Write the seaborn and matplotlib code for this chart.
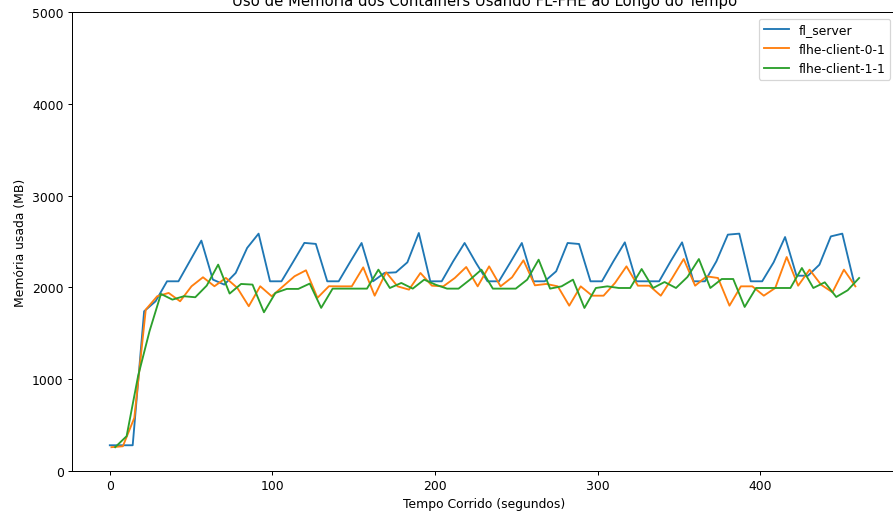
import numpy as np
import pandas as pd
import matplotlib
matplotlib.use("Agg")
import matplotlib.pyplot as plt
import seaborn as sns

# Amostragem dos containers (segundos)
intervalo = 7.04
inicio = {"fl_server": 0.0, "flhe-client-0-1": 1.0, "flhe-client-1-1": 3.3}

# Memória usada (MB)
fl_server = [
    276, 276, 276, 1738, 1847, 2065, 2065, 2287, 2509, 2084,
    2029, 2156, 2429, 2585, 2065, 2065, 2273, 2484, 2473, 2065,
    2065, 2276, 2483, 2065, 2156, 2163, 2272, 2592, 2065, 2065,
    2283, 2483, 2265, 2065, 2065, 2272, 2483, 2065, 2065, 2174,
    2483, 2472, 2065, 2065, 2283, 2490, 2065, 2065, 2065, 2283,
    2490, 2065, 2065, 2283, 2574, 2585, 2065, 2065, 2272, 2548,
    2126, 2126, 2246, 2555, 2585, 2065,
]
client_0 = [
    255, 265, 575, 1756, 1902, 1938, 1847, 2011, 2109, 2011,
    2102, 1993, 1793, 2011, 1902, 2011, 2120, 2185, 1884, 2011,
    2010, 2010, 2217, 1908, 2163, 2010, 1974, 2156, 2017, 2010,
    2101, 2221, 2010, 2228, 2010, 2108, 2294, 2021, 2036, 2010,
    1799, 2010, 1908, 1908, 2047, 2228, 2017, 2017, 1908, 2101,
    2308, 2017, 2119, 2101, 1799, 2010, 2010, 1908, 1992, 2330,
    2017, 2192, 2028, 1945, 2192, 2010,
]
client_1 = [
    255, 375, 1029, 1520, 1927, 1865, 1902, 1891, 2018, 2247,
    1931, 2036, 2029, 1727, 1938, 1982, 1982, 2040, 1775, 1985,
    1985, 1985, 1985, 2192, 1992, 2047, 1985, 2083, 2028, 1985,
    1985, 2083, 2192, 1985, 1985, 1985, 2083, 2301, 1985, 2010,
    2083, 1774, 1992, 2010, 1992, 1992, 2199, 1992, 2057, 1992,
    2112, 2308, 1992, 2090, 2090, 1785, 1992, 1992, 1992, 1992,
    2210, 1992, 2054, 1894, 1967, 2101,
]

series = {
    "fl_server": fl_server,
    "flhe-client-0-1": client_0,
    "flhe-client-1-1": client_1,
}
cores = ["#1f77b4", "#ff7f0e", "#2ca02c"]

# Montar DataFrame longo
linhas = []
for nome, valores in series.items():
    tempos = inicio[nome] + intervalo * np.arange(len(valores))
    for t, v in zip(tempos, valores):
        linhas.append({"tempo": t, "memoria": v, "container": nome})
df = pd.DataFrame(linhas)

# figura 10 pol. de largura reduzida para 893 px
dpi = 89.3
fig = plt.figure(figsize=(10, 512 / dpi), dpi=dpi)
ax = fig.add_axes([0.081, 0.079, 0.923, 0.895])

sns.lineplot(data=df, x="tempo", y="memoria", hue="container",
             palette=cores, errorbar=None, linewidth=1.5, ax=ax)

ax.set_ylim(0, 5000)
ax.set_xlabel("Tempo Corrido (segundos)")
ax.set_ylabel("Memória usada (MB)")
ax.set_title("Uso de Memória dos Containers Usando FL-FHE ao Longo do Tempo")
sns.move_legend(ax, "upper right", title=None)

fig.savefig("out.png", dpi=dpi)
